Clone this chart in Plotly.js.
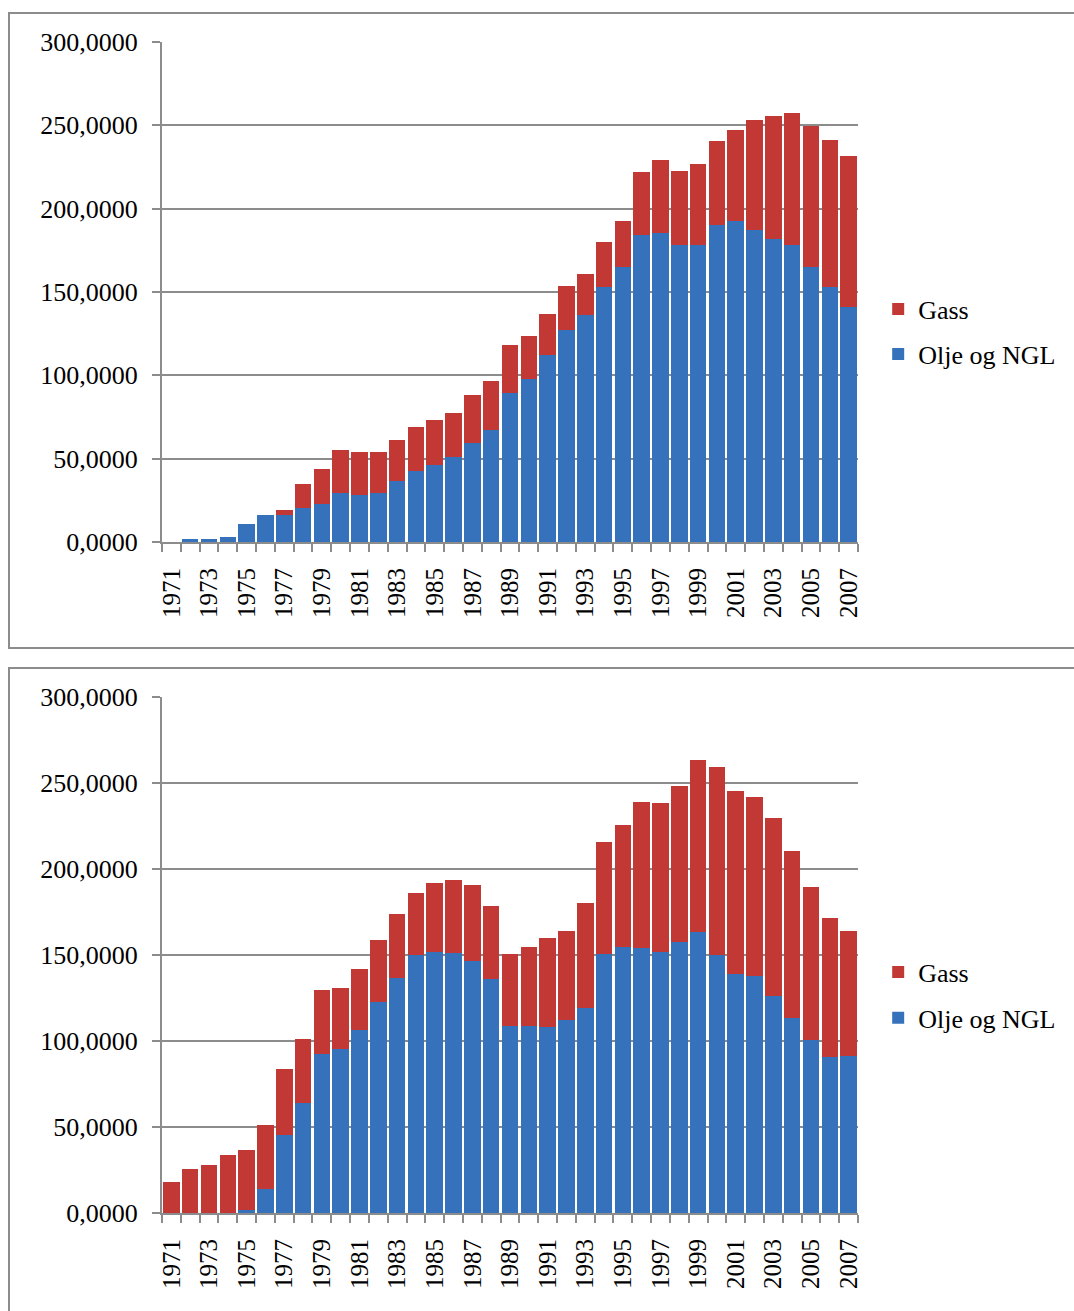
<!DOCTYPE html>
<html>
<head>
<meta charset="utf-8">
<script src="https://cdn.plot.ly/plotly-3.0.1.min.js"></script>
<style>
  html, body { margin: 0; padding: 0; background: #fff; width: 1074px; height: 1311px; overflow: hidden; position: relative; }
  .frame { position: absolute; border: 2px solid #8c8c8c; box-sizing: border-box; }
  .chart { position: absolute; left: 0; width: 1074px; }
</style>
</head>
<body>
<div class="frame" style="left:8px; top:12px; width:1100px; height:637px;"></div>
<div class="frame" style="left:8px; top:667px; width:1100px; height:700px;"></div>
<div id="c1" class="chart" style="top:0px; height:660px;"></div>
<div id="c2" class="chart" style="top:655px; height:656px;"></div>
<script>
const years = [1971,1972,1973,1974,1975,1976,1977,1978,1979,1980,1981,1982,1983,1984,1985,1986,1987,1988,1989,1990,1991,1992,1993,1994,1995,1996,1997,1998,1999,2000,2001,2002,2003,2004,2005,2006,2007];
const yearLabels = [1971,1973,1975,1977,1979,1981,1983,1985,1987,1989,1991,1993,1995,1997,1999,2001,2003,2005,2007];
const yTicks = [0,50,100,150,200,250,300];

// Chart 1
const oil1 = [0.3,2.0,2.0,2.8,11.0,16.4,16.4,20.6,23.0,29.6,28.4,29.6,36.8,42.8,46.4,51.2,59.6,67.4,89.2,97.6,112.0,127.0,136.0,153.2,164.8,184.0,185.6,178.0,178.0,190.4,192.8,187.4,182.0,178.4,164.8,153.2,141.2];
const gas1 = [0,0,0,0,0,0,3.0,14.4,21.0,25.8,25.8,24.6,24.6,26.4,27.0,26.4,28.8,29.4,29.2,26.2,25.0,26.8,25.0,27.0,28.0,38.2,43.8,44.8,49.0,50.4,54.6,66.0,73.8,79.2,85.0,88.2,90.6];

// Chart 2
const oil2 = [0,0,0,0,1.6,13.8,45.2,63.8,92.2,95.2,106.2,122.5,136.4,149.8,151.6,151.0,146.3,135.9,108.5,108.5,107.9,112.0,119.0,150.4,154.5,153.9,151.6,157.4,163.2,149.8,138.8,137.6,126.0,113.2,100.4,90.5,91.1];
const gas2 = [17.8,25.4,27.7,33.5,34.8,37.2,38.3,37.2,37.3,35.4,35.5,36.0,37.2,36.1,40.1,42.4,44.2,42.4,41.9,46.0,51.8,51.8,61.0,65.1,70.9,84.9,86.6,90.7,100.0,109.3,106.4,104.1,103.5,97.1,88.9,80.8,72.7];

const seriesNames = ['Olje og NGL', 'Gass'];
const blue = '#3672bb';
const red = '#c23835';
const grey = '#8c8c8c';
const font = 'Liberation Serif, Times New Roman, serif';

function draw(id, oil, gas, t, b, legYs) {
  const traces = [
    {type:'bar', x: years, y: oil, name: seriesNames[0], marker:{color: blue}, legend:'legend2', hoverinfo:'skip'},
    {type:'bar', x: years, y: gas, name: seriesNames[1], marker:{color: red}, legend:'legend', hoverinfo:'skip'}
  ];
  const legBase = {x: 1.029, xanchor:'left', yanchor:'middle', bgcolor:'rgba(0,0,0,0)',
                   font:{family: font, size: 26, color:'#000'}, itemwidth: 30};
  const layout = {
    width: 1074, height: (id==='c1'?660:656),
    margin: {l:162, r:216, t:t, b:b},
    paper_bgcolor:'rgba(0,0,0,0)', plot_bgcolor:'#fff',
    barmode:'stack', bargap: 0.12,
    separators: ', ',
    showlegend: true,
    legend: Object.assign({}, legBase, {y: legYs[0]}),
    legend2: Object.assign({}, legBase, {y: legYs[1]}),
    xaxis: {
      range:[1970.5, 2007.5], tickmode:'array', tickvals: yearLabels, ticktext: yearLabels.map(String),
      tickangle: -90, ticks:'', showgrid:false, zeroline:false,
      showline:true, linecolor: grey, linewidth: 2,
      ticklabelstandoff: 14,
      tickfont:{family: font, size: 25, color:'#000'},
      minor:{ticks:'outside', ticklen: 8, tickwidth: 2, tickcolor: grey, tickmode:'linear', tick0: 1970.5, dtick: 1, showgrid:false}
    },
    yaxis: {
      range:[0, 300], tickmode:'array', tickvals: yTicks, tickformat: '.4f',
      ticks:'outside', ticklen: 8, tickwidth: 2, tickcolor: grey,
      showgrid:true, gridcolor: grey, gridwidth: 2, zeroline:false,
      showline:true, linecolor: grey, linewidth: 2,
      ticklabelstandoff: 9,
      tickfont:{family: font, size: 26, color:'#000'}
    }
  };
  Plotly.newPlot(id, traces, layout, {staticPlot:true, displayModeBar:false});
}

draw('c1', oil1, gas1, 42, 118, [0.466, 0.376]);
draw('c2', oil2, gas2, 42, 98, [0.467, 0.378]);
</script>
</body>
</html>
